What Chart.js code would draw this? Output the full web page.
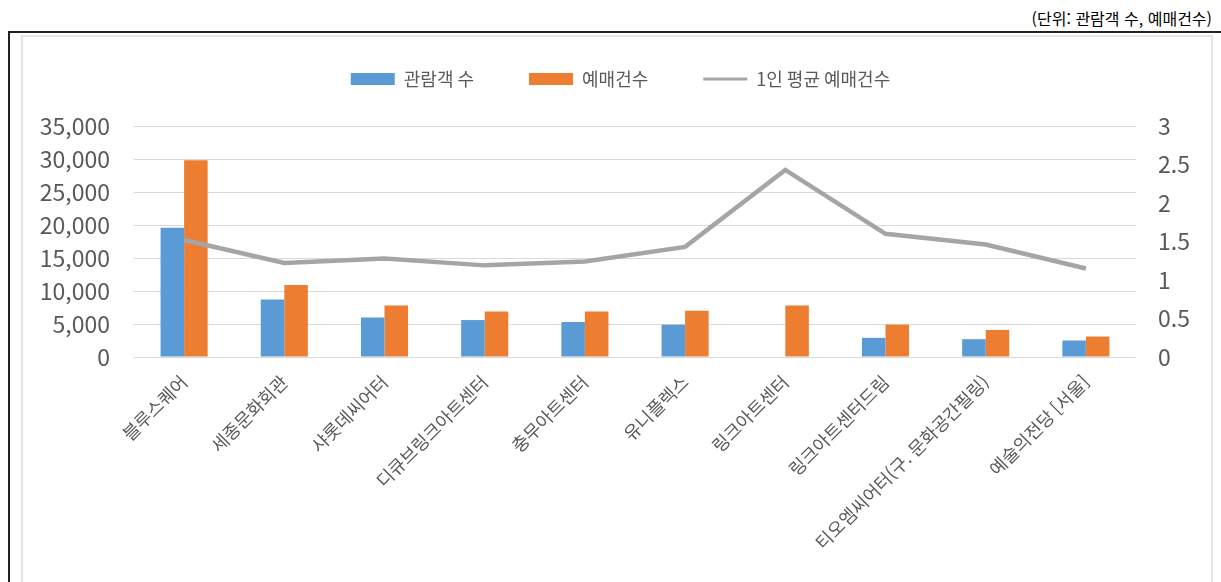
<!DOCTYPE html>
<html lang="ko">
<head>
<meta charset="utf-8">
<script src="https://cdn.jsdelivr.net/npm/chart.js@4"></script>
<style>
  html, body { margin: 0; padding: 0; background: #fff; width: 1221px; height: 582px; overflow: hidden; }
  #unit { position: absolute; right: 9px; top: 6px; font: 16px "Noto Sans CJK KR", sans-serif; color: #000; white-space: nowrap; }
  #frame { position: absolute; left: 8px; top: 31px; width: 1240px; height: 600px; border-left: 2px solid #222; border-top: 2px solid #222; }
  #inner { position: absolute; left: 21px; top: 35px; width: 1188px; height: 560px; border: 2px solid #e3e3e3; }
  #wrap { position: absolute; left: 0; top: 0; width: 1221px; height: 582px; }
</style>
</head>
<body>
<div id="unit">(단위: 관람객 수, 예매건수)</div>
<div id="frame"></div>
<div id="inner"></div>
<div id="wrap"><canvas id="combo"></canvas></div>
<script>
const venues = ['블루스퀘어', '세종문화회관', '샤롯데씨어터', '디큐브링크아트센터', '충무아트센터',
    '유니플렉스', '링크아트센터', '링크아트센터드림', '티오엠씨어터(구. 문화공간필링)', '예술의전당 [서울]'];
const visitors = [19600, 8700, 6000, 5600, 5300, 4900, null, 2900, 2700, 2500];
const bookings = [29800, 10900, 7800, 6900, 6900, 7000, 7800, 4900, 4100, 3100];
const avgBookings = [1.52, 1.22, 1.28, 1.19, 1.24, 1.43, 2.43, 1.6, 1.46, 1.15];

const grey = '#595959';
const font = 'Noto Sans CJK KR';

const ctx = document.getElementById('combo').getContext('2d');
const chart = new Chart(ctx, {
    type: 'bar',
    data: {
        labels: venues,
        datasets: [
            {
                label: '관람객 수',
                data: visitors,
                backgroundColor: '#5b9bd5',
                categoryPercentage: 0.47,
                barPercentage: 1.0,
                order: 1
            },
            {
                label: '예매건수',
                data: bookings,
                backgroundColor: '#ed7d31',
                categoryPercentage: 0.47,
                barPercentage: 1.0,
                order: 1
            },
            {
                type: 'line',
                label: '1인 평균 예매건수',
                data: avgBookings,
                yAxisID: 'y1',
                borderColor: '#a5a5a5',
                backgroundColor: '#a5a5a5',
                borderWidth: 4.5,
                pointRadius: 0,
                tension: 0,
                order: 0
            }
        ]
    },
    options: {
        responsive: true,
        maintainAspectRatio: false,
        animation: false,
        layout: { padding: { left: 30, right: 10, top: 0, bottom: 0 } },
        plugins: {
            tooltip: { enabled: false },
            // empty subtitle used only as a gap between legend and plot
            subtitle: {
                display: true,
                text: ' ',
                font: { size: 10, lineHeight: 1 },
                padding: { top: 0, bottom: 18 }
            },
            legend: {
                position: 'top',
                weight: 3000,
                labels: {
                    color: grey,
                    font: { family: font, size: 18 },
                    usePointStyle: true,
                    pointStyleWidth: 44,
                    boxHeight: 12,
                    padding: 55,
                    sort: (a, b) => a.datasetIndex - b.datasetIndex,
                    generateLabels: (c) => {
                        const items = Chart.defaults.plugins.legend.labels.generateLabels(c);
                        items.forEach((it) => {
                            if (it.datasetIndex === 2) {
                                it.pointStyle = 'line';
                                it.lineWidth = 3;
                                it.strokeStyle = '#a5a5a5';
                            } else {
                                it.pointStyle = 'rect';
                                it.lineWidth = 0;
                            }
                        });
                        return items;
                    }
                }
            }
        },
        scales: {
            x: {
                grid: { display: false },
                border: { display: false },
                ticks: {
                    color: grey,
                    font: { family: font, size: 18 },
                    minRotation: 45,
                    maxRotation: 45,
                    autoSkip: false,
                    padding: 6
                },
                afterFit: (s) => { s.height = 225; }
            },
            y: {
                position: 'left',
                min: 0,
                max: 35000,
                grid: { color: '#d9d9d9', drawTicks: false },
                border: { display: false },
                ticks: {
                    stepSize: 5000,
                    color: grey,
                    font: { family: font, size: 23 },
                    padding: 24,
                    callback: (v) => v.toLocaleString('en-US')
                },
                afterFit: (s) => { s.width = 104; s.paddingTop = 126; }
            },
            y1: {
                position: 'right',
                min: 0,
                max: 3,
                grid: { display: false },
                border: { display: false },
                ticks: {
                    stepSize: 0.5,
                    color: grey,
                    font: { family: font, size: 23 },
                    padding: 14,
                    callback: (v) => String(v)
                },
                afterFit: (s) => { s.width = 75; }
            }
        }
    }
});
</script>
</body>
</html>
